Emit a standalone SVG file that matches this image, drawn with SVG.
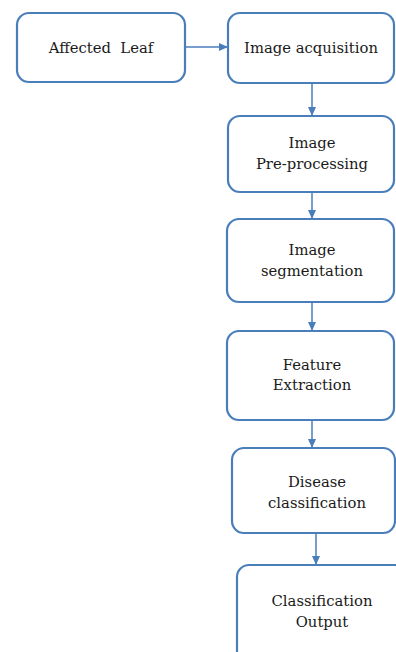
<svg xmlns="http://www.w3.org/2000/svg" width="396" height="652" viewBox="0 0 396 652">
<defs>
<marker id="ah" markerWidth="10" markerHeight="10" refX="9" refY="5" orient="auto" markerUnits="userSpaceOnUse">
<path d="M0,1 L9,5 L0,9 Z" fill="#4a7ebb"/>
</marker>
<style>
.box{fill:#fff;stroke:#4a7ebb;stroke-width:2.2}
.t{font-family:"DejaVu Serif","Liberation Serif",serif;font-size:14.8px;fill:#1a1a1a;text-anchor:middle}
.c{stroke:#4a7ebb;stroke-width:1.5;fill:none;marker-end:url(#ah)}
</style>
</defs>
<rect width="396" height="652" fill="#fff"/>
<g id="connectors">
<line class="c" x1="185" y1="47" x2="228" y2="47"/>
<line class="c" x1="312" y1="83" x2="312" y2="116"/>
<line class="c" x1="312" y1="192" x2="312" y2="219"/>
<line class="c" x1="312" y1="302" x2="312" y2="331"/>
<line class="c" x1="312" y1="420" x2="312" y2="448"/>
<line class="c" x1="316" y1="533" x2="316" y2="565"/>
</g>
<g id="n1"><rect class="box" x="17" y="13" width="168" height="69" rx="12"/><text class="t" x="101" y="53" xml:space="preserve">Affected  Leaf</text></g>
<g id="n2"><rect class="box" x="228" y="13" width="166" height="70" rx="12"/><text class="t" x="311" y="53">Image acquisition</text></g>
<g id="n3"><rect class="box" x="228" y="116" width="166" height="76" rx="12"/><text class="t" x="312" y="148">Image</text><text class="t" x="312" y="169">Pre-processing</text></g>
<g id="n4"><rect class="box" x="227" y="219" width="167" height="83" rx="12"/><text class="t" x="312" y="255">Image</text><text class="t" x="312" y="276">segmentation</text></g>
<g id="n5"><rect class="box" x="227" y="331" width="167" height="89" rx="12"/><text class="t" x="312" y="370">Feature</text><text class="t" x="312" y="390">Extraction</text></g>
<g id="n6"><rect class="box" x="232" y="448" width="163" height="85" rx="12"/><text class="t" x="317" y="487">Disease</text><text class="t" x="317" y="508">classification</text></g>
<g id="n7"><rect class="box" x="237" y="565" width="170" height="100" rx="12"/><text class="t" x="322" y="606">Classification</text><text class="t" x="322" y="627">Output</text></g>
</svg>
